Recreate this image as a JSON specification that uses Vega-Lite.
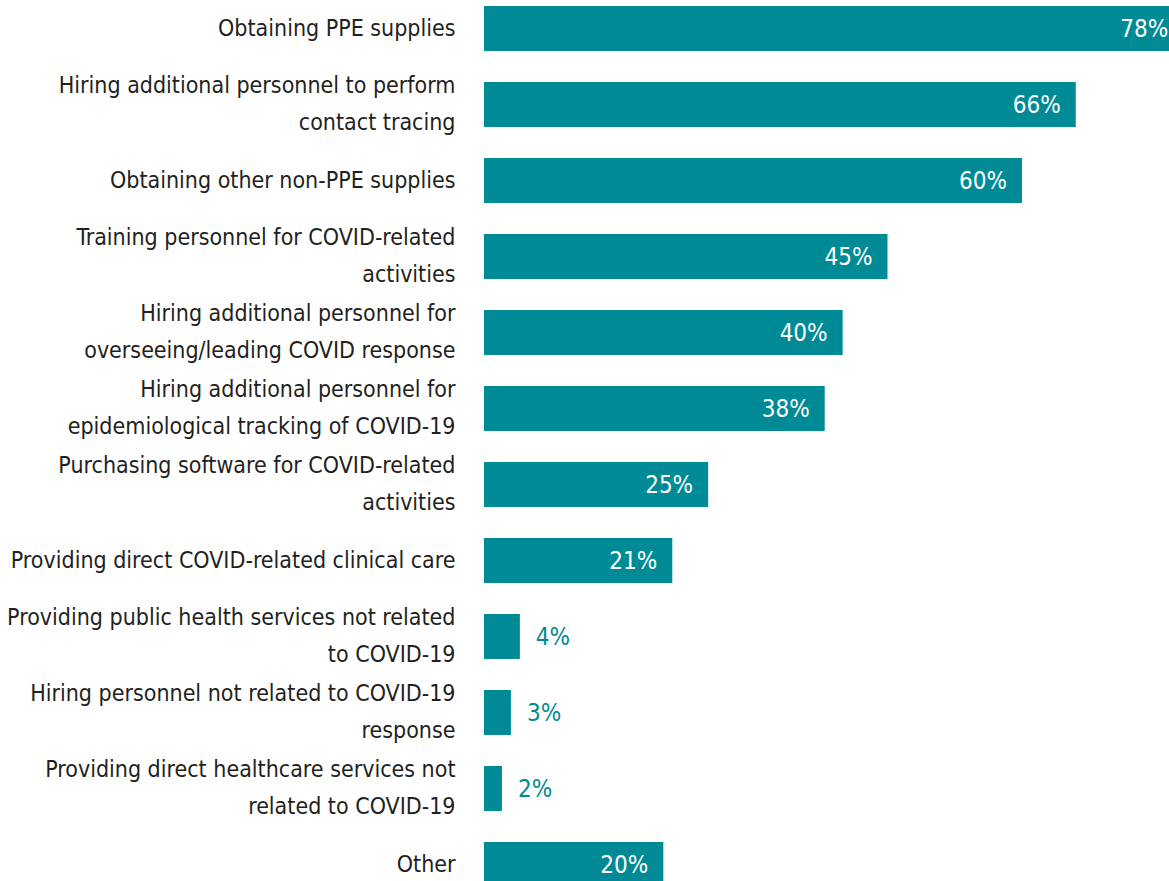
{
  "$schema": "https://vega.github.io/schema/vega-lite/v6.json",
  "autosize": {"type": "none"},
  "padding": {"left": 484, "top": 0, "right": 0, "bottom": 0},
  "width": 685,
  "height": 881,
  "background": "white",
  "config": {"view": {"stroke": null}},
  "data": {"values": [
    {"label": "Obtaining PPE supplies", "value": 0.78},
    {"label": "Hiring additional personnel to perform|contact tracing", "value": 0.66},
    {"label": "Obtaining other non-PPE supplies", "value": 0.60},
    {"label": "Training personnel for COVID-related|activities", "value": 0.45},
    {"label": "Hiring additional personnel for|overseeing/leading COVID response", "value": 0.40},
    {"label": "Hiring additional personnel for|epidemiological tracking of COVID-19", "value": 0.38},
    {"label": "Purchasing software for COVID-related|activities", "value": 0.25},
    {"label": "Providing direct COVID-related clinical care", "value": 0.21},
    {"label": "Providing public health services not related|to COVID-19", "value": 0.04},
    {"label": "Hiring personnel not related to COVID-19|response", "value": 0.03},
    {"label": "Providing direct healthcare services not|related to COVID-19", "value": 0.02},
    {"label": "Other", "value": 0.20}
  ]},
  "encoding": {
    "y": {
      "field": "label", "type": "nominal", "sort": null,
      "scale": {"range": [-9.5, 902.5], "paddingInner": 0.408, "paddingOuter": 0.204},
      "axis": {
        "title": null, "ticks": false, "domain": false,
        "labelExpr": "split(datum.label, '|')",
        "labelFont": "DejaVu Sans Condensed, sans-serif",
        "labelFontSize": 23, "labelLineHeight": 37, "labelColor": "#231F20",
        "labelPadding": 29, "labelLimit": 0, "labelAlign": "right", "labelBaseline": "middle",
        "labelOffset": {"condition": {"test": "indexof(datum.label, '|') >= 0", "value": -18.5}, "value": 0}
      }
    },
    "x": {
      "field": "value", "type": "quantitative",
      "scale": {"domain": [0, 0.764], "nice": false, "zero": true},
      "axis": null
    }
  },
  "layer": [
    {"mark": {"type": "bar", "color": "#008A95"}},
    {
      "transform": [{"filter": "datum.value >= 0.1"}],
      "mark": {"type": "text", "align": "right", "baseline": "middle", "dx": -15, "dy": 1, "color": "white",
               "font": "DejaVu Sans Condensed, sans-serif", "fontSize": 24},
      "encoding": {"text": {"field": "value", "type": "quantitative", "format": ".0%"}}
    },
    {
      "transform": [{"filter": "datum.value < 0.1"}],
      "mark": {"type": "text", "align": "left", "baseline": "middle", "dx": 16, "dy": 1, "color": "#008A95",
               "font": "DejaVu Sans Condensed, sans-serif", "fontSize": 24},
      "encoding": {"text": {"field": "value", "type": "quantitative", "format": ".0%"}}
    }
  ]
}
